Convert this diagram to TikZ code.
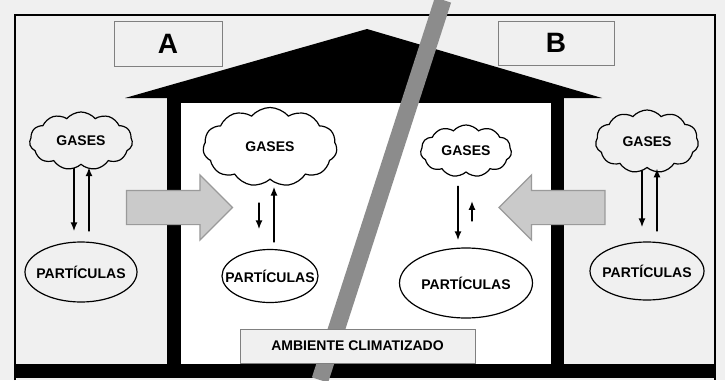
\documentclass[tikz,border=0pt]{standalone}
\usepackage{fontspec}
\setmainfont{Liberation Sans}
\usetikzlibrary{shapes.symbols,shapes.geometric,shapes.arrows,arrows.meta}

\definecolor{bggray}{HTML}{F0F0F0}
\definecolor{linegray}{HTML}{8C8C8C}
\definecolor{arrowfill}{HTML}{CACACA}
\definecolor{arrowdraw}{HTML}{9A9A9A}
\definecolor{boxdraw}{HTML}{808080}

\begin{document}
\begin{tikzpicture}[x=1pt,y=-1pt,
    gas/.style={cloud, draw, cloud puffs=11, cloud puff arc=100, cloud ignores aspect, line width=1.2pt, inner sep=0pt, font=\fontsize{14}{16}\selectfont\bfseries},
    partic/.style={ellipse, draw, line width=1.2pt, inner sep=0pt, font=\fontsize{14}{16}\selectfont\bfseries},
    flow/.style={-{Latex[length=9pt,width=7pt]}, line width=1.8pt},
    tagbox/.style={rectangle, draw=boxdraw, line width=1pt, fill=bggray},
    inflow/.style={single arrow, fill=arrowfill, draw=arrowdraw, line width=1.2pt, inner xsep=0pt, inner ysep=16.5pt, single arrow head extend=15.5pt, minimum height=106pt}
]
\useasboundingbox (0,0) rectangle (725,380);

% Background and frame
\fill[bggray] (0,0) rectangle (725,380);
\draw[line width=2.5pt] (15,380) -- (15,15) -- (715,15) -- (715,380);

% House
\fill (125,98) -- (367,29) -- (602,98) -- cycle;
\fill (167,95) rectangle (564,364);
\fill[white] (181,103) rectangle (551,364);
\fill (15,364) rectangle (715,378);

% Dividing line
\draw[linegray, line width=17pt] (443,0) -- (320,380);

% Labels
\node[tagbox, minimum width=108pt, minimum height=45pt, font=\fontsize{28}{30}\selectfont\bfseries] (tagA) at (168,43.5) {A};
\node[tagbox, minimum width=116pt, minimum height=44pt, font=\fontsize{28}{30}\selectfont\bfseries] (tagB) at (556,43) {B};
\node[tagbox, minimum width=235pt, minimum height=34pt, font=\fontsize{14}{16}\selectfont\bfseries] (room) at (357.5,346) {AMBIENTE CLIMATIZADO};

% Air entering the house
\node[inflow] (inA) at (171,207.5) {};
\node[inflow, shape border rotate=180] (inB) at (560.5,207.5) {};

% Gases
\node[gas, minimum width=103pt, minimum height=58pt] (gasA) at (81,141) {GASES};
\node[gas, minimum width=134pt, minimum height=79pt] (gasAin) at (270,147) {GASES};
\node[gas, minimum width=91pt, minimum height=52pt] (gasBin) at (466,151) {GASES};
\node[gas, minimum width=103pt, minimum height=63pt] (gasB) at (647,141.5) {GASES};

% Particles
\node[partic, minimum width=112pt, minimum height=60pt] (partA) at (81,272) {\makebox[0pt]{PARTÍCULAS}};
\node[partic, minimum width=96pt, minimum height=53pt] (partAin) at (270,276) {\makebox[0pt]{PARTÍCULAS}};
\node[partic, minimum width=133pt, minimum height=70pt] (partBin) at (466,283) {\makebox[0pt]{PARTÍCULAS}};
\node[partic, minimum width=114pt, minimum height=58pt] (partB) at (647,271) {\makebox[0pt]{PARTÍCULAS}};

% Exchange between gases and particles
\draw[flow, shorten <=3pt, shorten >=10pt] ([xshift=-7pt]gasA.south) -- ([xshift=-7pt]partA.north);
\draw[flow, shorten <=10pt, shorten >=2pt] ([xshift=8pt]partA.north) -- ([xshift=8pt]gasA.south);
\draw[flow, shorten <=22.5pt, shorten >=19.5pt] ([xshift=-11pt]gasAin.south) -- ([xshift=-11pt]partAin.north);
\draw[flow, shorten <=6.5pt, shorten >=6.5pt] ([xshift=4pt]partAin.north) -- ([xshift=4pt]gasAin.south);
\draw[flow, shorten <=13pt, shorten >=7pt] ([xshift=-8pt]gasBin.south) -- ([xshift=-8pt]partBin.north);
\draw[flow, shorten <=26pt, shorten >=28pt] ([xshift=6pt]partBin.north) -- ([xshift=6pt]gasBin.south);
\draw[flow, shorten <=2pt, shorten >=14pt] ([xshift=-5pt]gasB.south) -- ([xshift=-5pt]partB.north);
\draw[flow, shorten <=10pt, shorten >=0pt] ([xshift=10pt]partB.north) -- ([xshift=10pt]gasB.south);

\end{tikzpicture}
\end{document}
